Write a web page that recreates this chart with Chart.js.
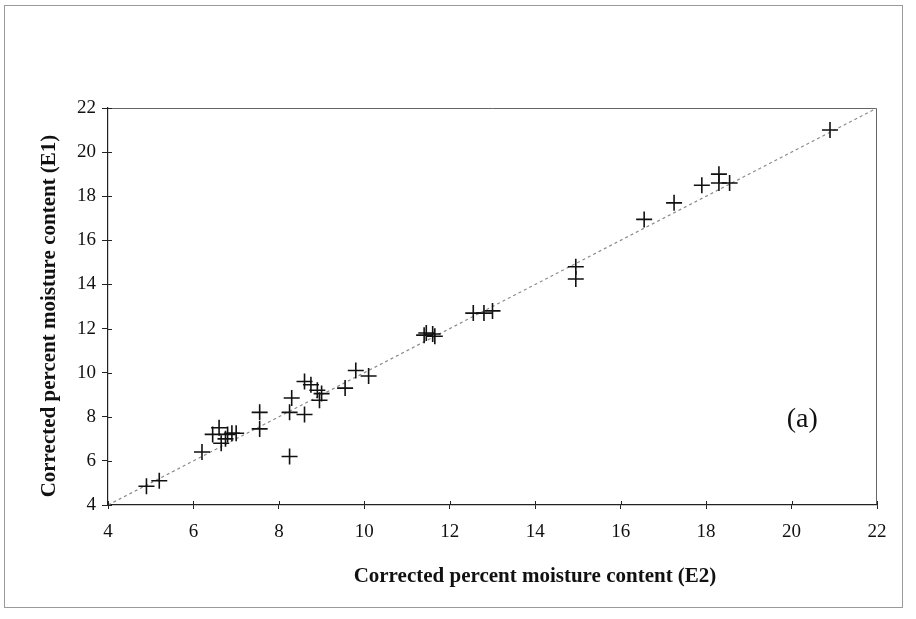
<!DOCTYPE html>
<html>
<head>
<meta charset="utf-8">
<script src="https://cdn.jsdelivr.net/npm/chart.js@4.4.1/dist/chart.umd.min.js"></script>
<style>
html,body{margin:0;padding:0;background:#fff;}
#wrap{width:916px;height:619px;position:relative;}
</style>
</head>
<body>
<div id="wrap"><canvas id="c" width="916" height="619"></canvas></div>
<script>
// Corrected percent moisture content (E2) -> x, (E1) -> y
const e2Values = [4.9, 5.2, 6.2, 6.45, 6.6, 6.65, 6.75, 6.8, 6.9, 7.0,
                  7.55, 7.55, 8.25, 8.3, 8.25, 8.6, 8.6, 8.75, 8.9, 9.0,
                  8.95, 9.55, 9.8, 10.1, 11.4, 11.45, 11.6, 11.65, 12.55, 12.8,
                  13.0, 14.95, 14.95, 16.55, 17.25, 17.9, 18.3, 18.3, 18.55, 20.9];
const e1Values = [4.85, 5.1, 6.4, 7.2, 7.5, 6.8, 7.0, 7.2, 7.25, 7.25,
                  8.2, 7.45, 6.2, 8.85, 8.2, 8.1, 9.6, 9.45, 9.2, 9.05,
                  8.75, 9.3, 10.1, 9.85, 11.7, 11.8, 11.75, 11.65, 12.7, 12.7,
                  12.8, 14.8, 14.25, 16.95, 17.7, 18.5, 19.0, 18.6, 18.6, 21.0];
const lineX = [4, 22];
const lineY = [4, 22];
const axisTicks = [4, 6, 8, 10, 12, 14, 16, 18, 20, 22];
const xTitle = 'Corrected percent moisture content (E2)';
const yTitle = 'Corrected percent moisture content (E1)';
const panelLabel = '(a)';

const points = e2Values.map((x, i) => ({x: x, y: e1Values[i]}));
const diag = lineX.map((x, i) => ({x: x, y: lineY[i]}));

const decor = {
  id: 'decor',
  beforeDraw(chart) {
    const ctx = chart.ctx;
    ctx.save();
    ctx.fillStyle = '#fff';
    ctx.fillRect(0, 0, chart.width, chart.height);
    ctx.strokeStyle = '#9a9a9a';
    ctx.lineWidth = 1;
    ctx.strokeRect(4.5, 5.5, 898, 602);
    const a = chart.chartArea;
    ctx.strokeStyle = '#666';
    ctx.beginPath();
    ctx.moveTo(a.left, a.top + 0.5);
    ctx.lineTo(a.right - 0.5, a.top + 0.5);
    ctx.lineTo(a.right - 0.5, a.bottom);
    ctx.stroke();
    ctx.restore();
  },
  afterDatasetsDraw(chart) {
    const ctx = chart.ctx;
    const xs = chart.scales.x, ys = chart.scales.y;
    ctx.save();
    // inward halves of the crossing tick marks
    ctx.strokeStyle = '#222';
    ctx.lineWidth = 1;
    ctx.beginPath();
    axisTicks.forEach(v => {
      const px = Math.round(xs.getPixelForValue(v)) + 0.5;
      ctx.moveTo(px, xs.top); ctx.lineTo(px, xs.top - 4);
      const py = Math.round(ys.getPixelForValue(v)) + 0.5;
      ctx.moveTo(ys.right, py); ctx.lineTo(ys.right + 4, py);
    });
    ctx.stroke();
    ctx.fillStyle = '#111';
    ctx.textAlign = 'center';
    ctx.textBaseline = 'middle';
    ctx.font = '28px "Liberation Serif"';
    ctx.fillText(panelLabel, xs.getPixelForValue(20.25), ys.getPixelForValue(7.85));
    // axis titles
    ctx.font = 'bold 21px "Liberation Serif"';
    ctx.fillText(xTitle, 535, 577);
    ctx.translate(50, 316);
    ctx.rotate(-Math.PI / 2);
    ctx.fillText(yTitle, 0, 0);
    ctx.restore();
  }
};

new Chart(document.getElementById('c'), {
  type: 'scatter',
  data: {
    datasets: [
      {
        type: 'line',
        data: diag,
        borderColor: '#8a8a8a',
        borderWidth: 1.2,
        borderDash: [3, 3],
        pointRadius: 0,
        fill: false,
        order: 2
      },
      {
        data: points,
        pointStyle: 'cross',
        pointRadius: 8,
        pointHoverRadius: 8,
        borderColor: '#111',
        backgroundColor: '#111',
        borderWidth: 1.6,
        order: 1
      }
    ]
  },
  plugins: [decor],
  options: {
    responsive: false,
    animation: false,
    events: [],
    layout: {padding: {left: 0, top: 108, right: 39, bottom: 0}},
    plugins: {legend: {display: false}, tooltip: {enabled: false}},
    scales: {
      x: {
        type: 'linear',
        min: 4, max: 22,
        afterFit(s) { s.height = 114; },
        afterBuildTicks(s) { s.ticks = axisTicks.map(v => ({value: v})); },
        grid: {display: true, drawOnChartArea: false, drawTicks: true, tickLength: 4, color: '#222'},
        border: {display: true, color: '#222', width: 1.2},
        ticks: {font: {family: '"Liberation Serif"', size: 19}, color: '#111', padding: 12, maxRotation: 0},
        title: {display: false}
      },
      y: {
        type: 'linear',
        min: 4, max: 22,
        afterFit(s) { s.width = 108; },
        afterBuildTicks(s) { s.ticks = axisTicks.map(v => ({value: v})); },
        grid: {display: true, drawOnChartArea: false, drawTicks: true, tickLength: 6, color: '#222'},
        border: {display: true, color: '#222', width: 1.2},
        ticks: {font: {family: '"Liberation Serif"', size: 19}, color: '#111', padding: 6},
        title: {display: false}
      }
    }
  }
});
</script>
</body>
</html>
